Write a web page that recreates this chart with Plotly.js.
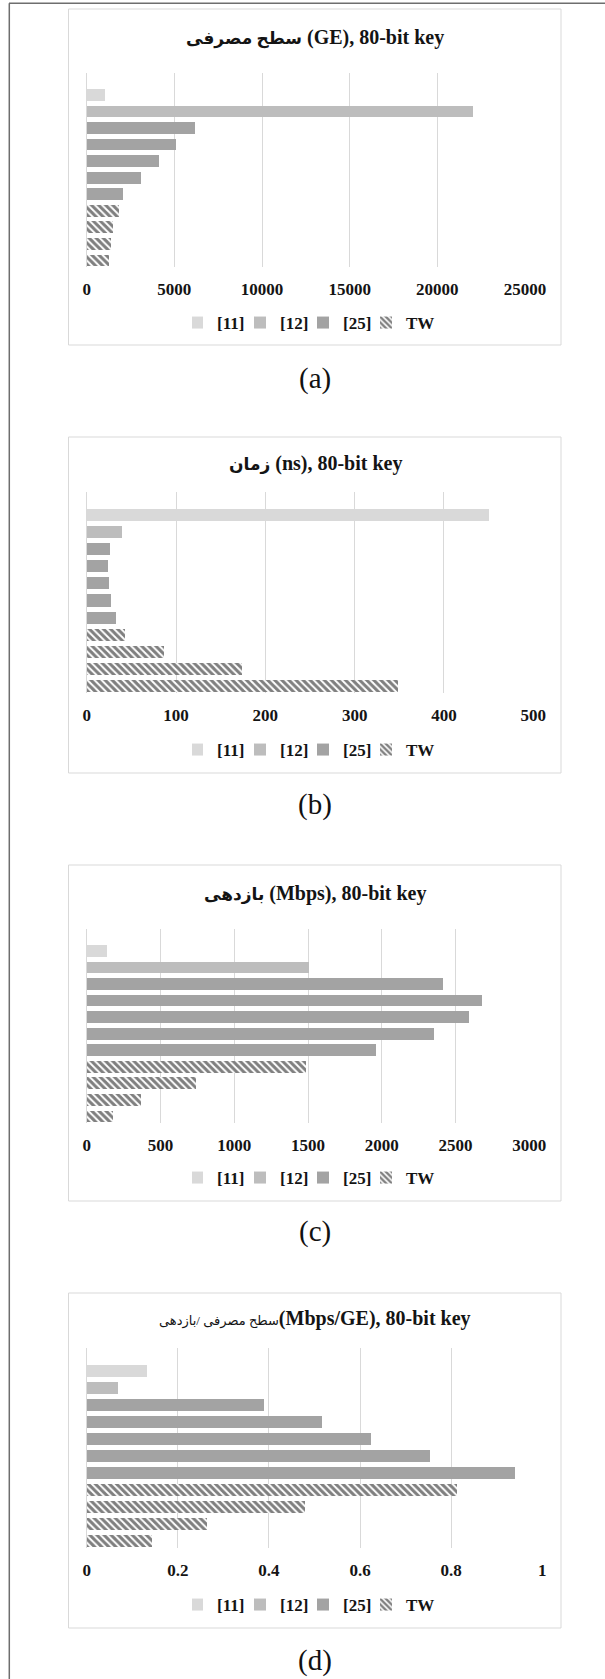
<!DOCTYPE html>
<html>
<head>
<meta charset="utf-8">
<script src="https://cdn.plot.ly/plotly-3.0.1.min.js"></script>
<style>
html,body{margin:0;padding:0;background:#ffffff;}
#chart{width:605px;height:1679px;}
</style>
</head>
<body>
<div id="chart"></div>
<script>
// ---------------- DATA ----------------
const seriesNames = ['[11]', '[12]', '[25]', 'TW'];
const rows11 = ['[11]'];
const rows12 = ['[12]'];
const rows25 = ['[25] #1', '[25] #2', '[25] #3', '[25] #4', '[25] #5'];
const rowsTW = ['TW #1', 'TW #2', 'TW #3', 'TW #4'];
const allRows = rows11.concat(rows12, rows25, rowsTW);

// (a) area, GE
const area11 = [1050];
const area12 = [22050];
const area25 = [6200, 5100, 4100, 3100, 2050];
const areaTW = [1850, 1500, 1400, 1280];

// (b) time, ns
const time11 = [450];
const time12 = [39];
const time25 = [26, 23.5, 24.5, 27, 32.5];
const timeTW = [43, 87, 174, 349];

// (c) throughput, Mbps
const thr11 = [140];
const thr12 = [1505];
const thr25 = [2413, 2677, 2589, 2352, 1961];
const thrTW = [1486, 739, 366, 180];

// (d) efficiency, Mbps/GE
const eff11 = [0.132];
const eff12 = [0.068];
const eff25 = [0.389, 0.517, 0.623, 0.754, 0.940];
const effTW = [0.813, 0.480, 0.263, 0.143];

const titlesText = [
  '<span style="font-size:17px">سطح مصرفی</span> (GE), 80-bit key',
  '<span style="font-size:17px">زمان</span> (ns), 80-bit key',
  '<span style="font-size:17px">بازدهی</span> (Mbps), 80-bit key',
  '<span style="font-size:13px;font-weight:normal">سطح مصرفی /بازدهی</span>(Mbps/GE), 80-bit key'
];
const panelLabels = ['(a)', '(b)', '(c)', '(d)'];
const tickValsA = [0, 5000, 10000, 15000, 20000, 25000];
const tickValsB = [0, 100, 200, 300, 400, 500];
const tickValsC = [0, 500, 1000, 1500, 2000, 2500, 3000];
const tickValsD = [0, 0.2, 0.4, 0.6, 0.8, 1];
const tickTextD = ['0', '0.2', '0.4', '0.6', '0.8', '1'];

const dataSets = [
  [area11, area12, area25, areaTW],
  [time11, time12, time25, timeTW],
  [thr11, thr12, thr25, thrTW],
  [eff11, eff12, eff25, effTW]
];
const rowSets = [rows11, rows12, rows25, rowsTW];
const tickSets = [tickValsA, tickValsB, tickValsC, tickValsD];
const tickTexts = [null, null, null, tickTextD];

// ---------------- LAYOUT GEOMETRY (pixels) ----------------
const W = 605, H = 1679;
const px = x => x / W;
const py = y => 1 - y / H;

const panels = [
  {box: [9, 345],    plot: [73, 267],   xr: [86.7, 525],   title: 37,   legend: 323,  label: 378},
  {box: [437, 773],  plot: [492, 693],  xr: [86.7, 533.3], title: 463,  legend: 750,  label: 805},
  {box: [865, 1201], plot: [929, 1123], xr: [86.7, 529.3], title: 893,  legend: 1178, label: 1231},
  {box: [1293, 1628],plot: [1348, 1548],xr: [86.7, 542.3], title: 1318, legend: 1605, label: 1660}
];
const xMax = [25000, 500, 3000, 1];

const colors = ['#d9d9d9', '#bdbdbd', '#a3a3a3', '#ffffff'];
const serif = '"Liberation Serif", "DejaVu Sans", serif';
const textColor = '#141414';

const traces = [];
const layout = {
  width: W, height: H,
  margin: {l: 0, r: 0, t: 0, b: 0, pad: 0},
  paper_bgcolor: '#ffffff',
  plot_bgcolor: 'rgba(0,0,0,0)',
  barmode: 'stack',
  showlegend: true,
  shapes: [],
  annotations: []
};

// outer frame (top & left)
layout.shapes.push({type: 'line', xref: 'paper', yref: 'paper', x0: px(9), x1: px(605), y0: py(3.3), y1: py(3.3),
  line: {color: '#6e6e6e', width: 1.5}, layer: 'below'});
layout.shapes.push({type: 'line', xref: 'paper', yref: 'paper', x0: px(9.3), x1: px(9.3), y0: py(3.3), y1: py(1679),
  line: {color: '#6e6e6e', width: 1.5}, layer: 'below'});

panels.forEach((p, i) => {
  const n = i === 0 ? '' : String(i + 1);
  const xa = 'xaxis' + n, ya = 'yaxis' + n;
  const xref = 'x' + n, yref = 'y' + n;
  const leg = 'legend' + n;

  // chart area box
  layout.shapes.push({type: 'rect', xref: 'paper', yref: 'paper', x0: px(68.5), x1: px(561), y0: py(p.box[1]), y1: py(p.box[0]),
    line: {color: '#d9d9d9', width: 1}, fillcolor: '#ffffff', layer: 'below'});

  layout[xa] = {
    domain: [px(p.xr[0]), px(p.xr[1])],
    anchor: yref,
    range: [0, xMax[i]],
    tickvals: tickSets[i],
    ticktext: tickTexts[i] || tickSets[i].map(String),
    showgrid: true, gridcolor: '#d9d9d9', gridwidth: 1,
    zeroline: false, showline: false, ticks: '',
    ticklabelstandoff: 10,
    tickfont: {family: serif, size: 17, color: textColor, weight: 'bold'},
    fixedrange: true
  };
  layout[ya] = {
    domain: [py(p.plot[1]), py(p.plot[0])],
    anchor: xref,
    type: 'category',
    categoryorder: 'array',
    categoryarray: allRows,
    range: [10.4, -1.33],
    showticklabels: false,
    showgrid: false, zeroline: false,
    showline: true, linecolor: '#d9d9d9', linewidth: 1,
    ticks: '',
    fixedrange: true
  };

  layout[leg] = {
    orientation: 'h',
    x: px(318), xanchor: 'center',
    y: py(p.legend), yanchor: 'middle',
    xref: 'paper', yref: 'paper',
    font: {family: serif, size: 17, color: textColor, weight: 'bold'},
    bgcolor: 'rgba(0,0,0,0)',
    traceorder: 'normal',
    itemwidth: 30,
    indentation: -15,
    entrywidth: 33,
    entrywidthmode: 'pixels',
    itemclick: false, itemdoubleclick: false
  };

  dataSets[i].forEach((vals, s) => {
    const tr = {
      type: 'bar',
      orientation: 'h',
      name: seriesNames[s],
      x: vals,
      y: rowSets[s],
      xaxis: xref, yaxis: yref,
      legend: leg,
      width: 0.71,
      marker: {color: colors[s], line: {width: 0}},
      hoverinfo: 'x+name'
    };
    if (s === 3) {
      tr.marker = {
        color: '#ffffff',
        line: {width: 0},
        pattern: {shape: '\\', fgcolor: '#000000', bgcolor: '#ffffff', size: 5, solidity: 0.6, fillmode: 'overlay'}
      };
    }
    traces.push(tr);
  });

  // title
  layout.annotations.push({
    xref: 'paper', yref: 'paper', x: px(315), y: py(p.title), xanchor: 'center', yanchor: 'middle',
    text: titlesText[i], showarrow: false,
    font: {family: serif, size: 20, color: textColor, weight: 'bold'}
  });
  // panel label
  layout.annotations.push({
    xref: 'paper', yref: 'paper', x: px(314.5), y: py(p.label), xanchor: 'center', yanchor: 'middle',
    text: panelLabels[i], showarrow: false,
    font: {family: serif, size: 29, color: '#111111'}
  });
});

Plotly.newPlot('chart', traces, layout, {displayModeBar: false, staticPlot: true});
</script>
</body>
</html>
